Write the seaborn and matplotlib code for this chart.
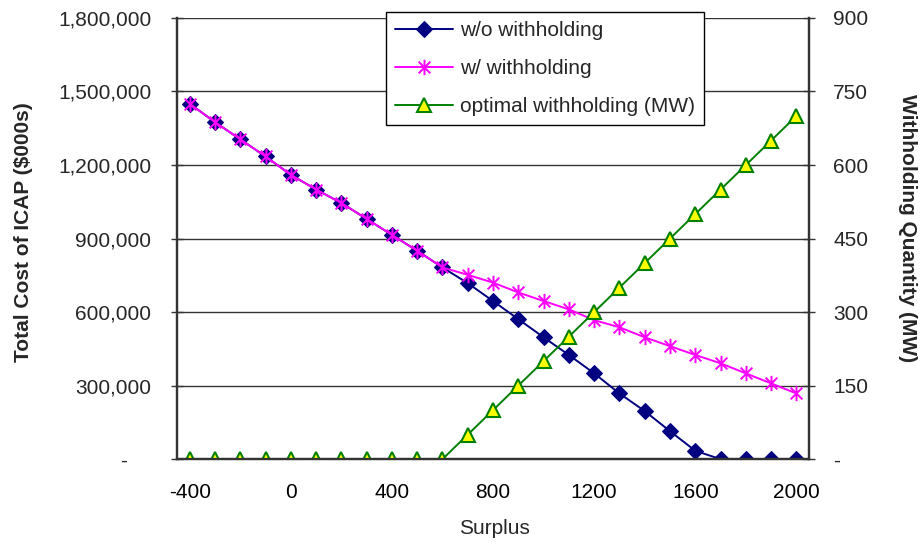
import numpy as np
import pandas as pd
import matplotlib
matplotlib.use("Agg")
import matplotlib.pyplot as plt
from matplotlib.path import Path
from matplotlib.ticker import FixedLocator, FuncFormatter
import seaborn as sns

# Surplus scenarios (MW)
surplus = list(range(-400, 2001, 100))

# Total cost of ICAP ($000s) without withholding
cost_without = [1450000, 1375000, 1305000, 1235000, 1160000, 1100000, 1045000,
                980000, 915000, 850000, 782000, 718000, 645000, 571000, 497000,
                425000, 350000, 268000, 196000, 114000, 34000, 0, 0, 0, 0]

# Total cost of ICAP ($000s) with optimal withholding
cost_with = [1450000, 1375000, 1305000, 1235000, 1160000, 1100000, 1045000,
             980000, 915000, 850000, 782000, 752000, 720000, 680000, 645000,
             611000, 567000, 538000, 497000, 461000, 425000, 391000, 350000,
             309000, 268000]

# Optimal withholding quantity (MW)
withholding_mw = [0, 0, 0, 0, 0, 0, 0, 0, 0, 0, 0, 50, 100, 150, 200, 250, 300,
                  350, 400, 450, 500, 550, 600, 650, 700]

x_labels = [-400, 0, 400, 800, 1200, 1600, 2000]
left_ticks = [0, 300000, 600000, 900000, 1200000, 1500000, 1800000]
right_ticks = [0, 150, 300, 450, 600, 750, 900]

df = pd.DataFrame({
    "Surplus": surplus,
    "w/o withholding": cost_without,
    "w/ withholding": cost_with,
    "optimal withholding (MW)": withholding_mw,
})

sns.set_style("white")
plt.rcParams["font.family"] = ["Liberation Sans", "DejaVu Sans"]
plt.rcParams["axes.unicode_minus"] = False
FS = 15

# Asterisk marker: an X crossed by a vertical bar
asterisk = Path(
    [(-1, -1), (1, 1), (-1, 1), (1, -1), (0, -1.3), (0, 1.3)],
    [Path.MOVETO, Path.LINETO, Path.MOVETO, Path.LINETO, Path.MOVETO, Path.LINETO],
)

fig = plt.figure(figsize=(9.22, 5.44), dpi=100)
ax = fig.add_axes([0.192, 0.156, 0.6855, 0.811])
ax2 = ax.twinx()

sns.lineplot(data=df, x="Surplus", y="w/o withholding", ax=ax, color="#000080",
             marker="D", markersize=8, markeredgecolor="#000080",
             linewidth=1.4, label="w/o withholding", legend=False)
sns.lineplot(data=df, x="Surplus", y="w/ withholding", ax=ax, color="#FF00FF",
             marker=asterisk, markersize=11, markeredgewidth=1.4,
             markeredgecolor="#FF00FF", linewidth=1.4,
             label="w/ withholding", legend=False)
sns.lineplot(data=df, x="Surplus", y="optimal withholding (MW)", ax=ax2,
             color="#008000", marker="^", markersize=10,
             markerfacecolor="#FFFF00", markeredgecolor="#008000",
             markeredgewidth=1.5, linewidth=1.4,
             label="optimal withholding (MW)", legend=False)

# Axes limits and ticks
ax.set_xlim(-450, 2050)
ax.set_ylim(0, 1800000)
ax2.set_ylim(0, 900)

ax.xaxis.set_major_locator(FixedLocator(x_labels))
ax.xaxis.set_minor_locator(FixedLocator(np.arange(-450, 2051, 100)))
ax.tick_params(axis="x", which="major", length=0, pad=17, labelsize=FS, colors="black")
ax.tick_params(axis="x", which="minor", length=5, width=1, direction="out", color="#333333")

ax.yaxis.set_major_locator(FixedLocator(left_ticks))
ax.yaxis.set_major_formatter(FuncFormatter(lambda v, p: "-    " if v == 0 else f"{int(v):,}"))
ax.tick_params(axis="y", length=9, width=1, direction="inout", color="#333333",
               labelsize=FS, pad=14, left=True)

ax2.yaxis.set_major_locator(FixedLocator(right_ticks))
ax2.yaxis.set_major_formatter(FuncFormatter(lambda v, p: "-" if v == 0 else f"{int(v)}"))
ax2.tick_params(axis="y", length=9, width=1, direction="inout", color="#333333",
                labelsize=FS, pad=13, right=True)

ax.grid(axis="y", color="#333333", linewidth=1)
ax.set_axisbelow(True)

for a in (ax, ax2):
    a.spines["top"].set_visible(False)
    for s in ("left", "right", "bottom"):
        a.spines[s].set_color("#333333")
        a.spines[s].set_linewidth(1.6)

ax.set_xlabel("Surplus", fontsize=FS)
ax.xaxis.set_label_coords(0.5016, -0.136)
ax.set_ylabel("Total Cost of ICAP ($000s)", fontsize=FS, fontweight="bold", va="center")
ax.yaxis.set_label_coords(-0.2425, 0.515)
ax2.set_ylabel("Withholding Quantity (MW)", fontsize=FS, fontweight="bold",
               rotation=-90, va="center")
ax2.yaxis.set_label_coords(1.155, 0.524)

h1, l1 = ax.get_legend_handles_labels()
h2, l2 = ax2.get_legend_handles_labels()
leg = ax2.legend(h1 + h2, l1 + l2, loc="upper left",
                 bbox_to_anchor=(0.3307, 1.0136), borderaxespad=0,
                 fontsize=FS, frameon=True,
                 fancybox=False, edgecolor="black", framealpha=1,
                 handlelength=2.75, borderpad=0.45, labelspacing=0.9,
                 handletextpad=0.35)
leg.get_frame().set_linewidth(1)

fig.savefig("out.png", dpi=100, facecolor="white")
